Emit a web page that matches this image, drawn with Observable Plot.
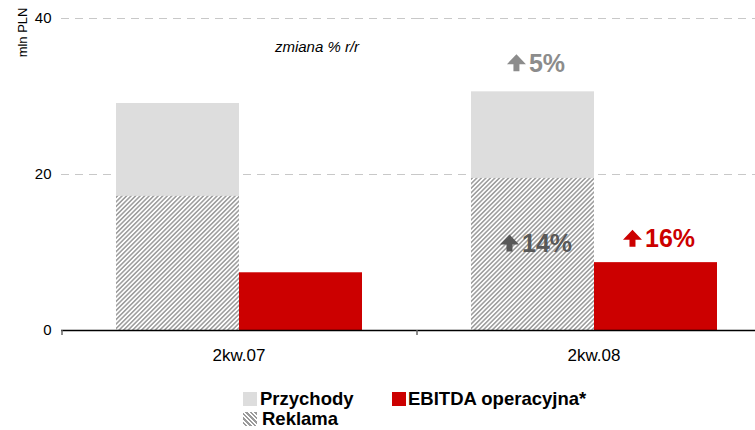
<!DOCTYPE html>
<html>
<head>
<meta charset="utf-8">
<script src="https://cdn.jsdelivr.net/npm/d3@7"></script>
<script src="https://cdn.jsdelivr.net/npm/@observablehq/plot@0.6"></script>
<style>
  html, body { margin: 0; padding: 0; background: #fff; }
  body { width: 755px; height: 430px; overflow: hidden; font-family: "Liberation Sans", Arial, sans-serif; }
  #legend { position: relative; width: 755px; height: 58px; }
  .sw { position: absolute; width: 14px; height: 14px; }
  .lt { position: absolute; font-size: 18.5px; font-weight: bold; color: #000; line-height: 18px; white-space: nowrap; }
</style>
</head>
<body>
<div id="chart"></div>
<div id="legend"></div>
<script>
// ---- data ----
const categories = ["2kw.07", "2kw.08"];
const przychody = [29.1, 30.6];
const reklama = [17.2, 19.5];
const ebitda = [7.4, 8.7];
const yTicks = [0, 20, 40];
const yLabel = "mln PLN";
const noteText = "zmiana % r/r";
const changeText = ["5%", "14%", "16%"];
const changeCat = ["2kw.08", "2kw.08", "2kw.08"];
const changeSeries = ["s", "s", "e"];
const changeY = [34.2, 11.1, 11.7];
const changeColor = ["#8c8c8c", "#595959", "#cc0000"];
const seriesNames = ["Przychody", "Reklama", "EBITDA operacyjna*"];
const seriesColors = ["#dddddd", "url(#hatch)", "#cc0000"];

// ---- tables ----
const salesBars = categories.map((c, i) => ({cat: c, ser: "s", v: przychody[i]}));
const adBars = categories.map((c, i) => ({cat: c, ser: "s", v: reklama[i]}));
const ebitdaBars = categories.map((c, i) => ({cat: c, ser: "e", v: ebitda[i]}));

// measure label widths to centre "arrow + text" groups on the bars
const ctx = document.createElement("canvas").getContext("2d");
ctx.font = "bold 25px 'Liberation Sans', Arial, sans-serif";
const ARROW_W = 19, GAP = 3, SHIFT = 3;
const changes = changeText.map((t, i) => {
  const w = ctx.measureText(t).width;
  const g = ARROW_W + GAP + w;
  return {t, cat: changeCat[i], ser: changeSeries[i], y: changeY[i], color: changeColor[i],
          arrowDx: SHIFT - g / 2 + ARROW_W / 2, textDx: SHIFT - g / 2 + ARROW_W + GAP};
});

// thick up-arrow symbol
const arrowSymbol = {
  draw(context, size) {
    const r = Math.sqrt(size / Math.PI);
    context.moveTo(0, -0.895 * r);
    context.lineTo(r, 0.158 * r);
    context.lineTo(0.316 * r, 0.158 * r);
    context.lineTo(0.316 * r, 0.895 * r);
    context.lineTo(-0.316 * r, 0.895 * r);
    context.lineTo(-0.316 * r, 0.158 * r);
    context.lineTo(-r, 0.158 * r);
    context.closePath();
  }
};

const annotationMarks = changes.flatMap(d => [
  Plot.dot([d], {fx: "cat", x: "ser", y: "y", symbol: arrowSymbol, r: ARROW_W / 2, fill: "color", stroke: null, dx: d.arrowDx, dy: -1}),
  Plot.text([d], {fx: "cat", x: "ser", y: "y", text: "t", fill: "color", textAnchor: "start", dx: d.textDx, fontSize: 25, fontWeight: "bold"})
]);

const chart = Plot.plot({
  width: 755,
  height: 372,
  marginLeft: 61,
  marginRight: -16,
  marginTop: 18,
  marginBottom: 42,
  style: {fontFamily: "'Liberation Sans', Arial, sans-serif", fontSize: "15px", color: "#000", background: "#fff", overflow: "hidden"},
  fx: {domain: categories, padding: 0, label: null},
  x: {domain: ["s", "e"], paddingInner: 0, paddingOuter: 0.44, axis: null},
  y: {domain: [0, 40], label: null},
  marks: [
    Plot.gridY(yTicks.filter(d => d > 0), {stroke: "#c8c8c8", strokeOpacity: 1, strokeDasharray: "8,6", strokeWidth: 1}),
    Plot.barY(salesBars, {fx: "cat", x: "ser", y1: 0, y2: "v", fill: seriesColors[0]}),
    Plot.barY(adBars, {fx: "cat", x: "ser", y1: 0, y2: "v", fill: seriesColors[1]}),
    Plot.barY(ebitdaBars, {fx: "cat", x: "ser", y1: 0, y2: "v", fill: seriesColors[2]}),
    Plot.ruleY([0], {stroke: "#000", strokeWidth: 1.5}),
    Plot.ruleX(categories, {fx: d => d, x: () => "s", y1: 0, y2: -0.65, dx: -116, stroke: "#666", strokeWidth: 1.5}),
    Plot.axisY({ticks: yTicks, tickSize: 0, tickPadding: 10, fontSize: 15, label: null}),
    Plot.axisFx({anchor: "bottom", tickSize: 0, tickPadding: 18, fontSize: 17, label: null}),
    Plot.text([{cat: categories[0], t: yLabel}], {fx: "cat", text: "t", frameAnchor: "top-left", rotate: -90, textAnchor: "end", dx: -44, dy: -11, fontSize: 13, fill: "#000"}),
    Plot.text([{cat: categories[0], t: noteText}], {fx: "cat", x: () => "e", y: () => 36.3, text: "t", dx: 16, fontSize: 15, fontStyle: "italic", fill: "#000"}),
    ...annotationMarks
  ]
});

d3.select(chart).insert("defs", ":first-child").html(`
  <pattern id="hatch" patternUnits="userSpaceOnUse" width="3.2" height="3.2" patternTransform="rotate(45)">
    <rect width="3.2" height="3.2" fill="#ffffff"></rect>
    <line x1="0.8" y1="0" x2="0.8" y2="3.2" stroke="#9a9a9a" stroke-width="1.5"></line>
  </pattern>`);

document.getElementById("chart").appendChild(chart);

// ---- legend ----
const legend = d3.select("#legend");
const legendItems = [
  {name: seriesNames[0], swLeft: 243, swTop: 20, txLeft: 260, txTop: 18, bg: seriesColors[0]},
  {name: seriesNames[2], swLeft: 392, swTop: 20, txLeft: 408, txTop: 18, bg: seriesColors[2]},
  {name: seriesNames[1], swLeft: 243, swTop: 40, txLeft: 262, txTop: 38, bg: "repeating-linear-gradient(45deg, #ffffff 0px, #ffffff 1.6px, #9a9a9a 1.6px, #9a9a9a 3.2px)"}
];
legendItems.forEach(d => {
  legend.append("div").attr("class", "sw").style("left", d.swLeft + "px").style("top", d.swTop + "px").style("background", d.bg);
  legend.append("div").attr("class", "lt").style("left", d.txLeft + "px").style("top", d.txTop + "px").text(d.name);
});
</script>
</body>
</html>
